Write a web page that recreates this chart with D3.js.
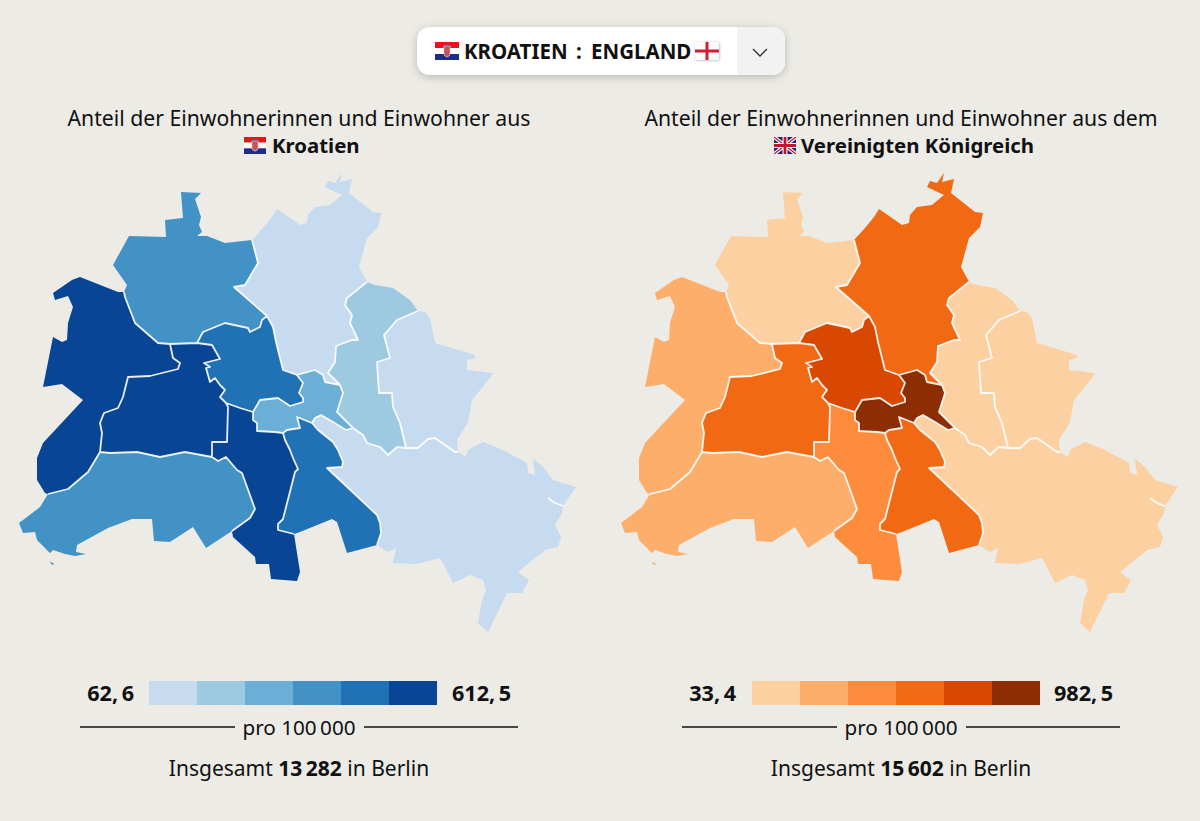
<!DOCTYPE html>
<html lang="de">
<head>
<meta charset="utf-8">
<title>Kroatien : England</title>
<script src="https://cdn.jsdelivr.net/npm/d3@7"></script>
<style>
  html, body { margin: 0; background: #ecebe6; }
  svg { display: block; }
  text { font-family: "Source Sans Pro", "Noto Sans", Lato, sans-serif; fill: #111; }
</style>
</head>
<body>
<svg id="chart" width="1200" height="821"></svg>
<script>
// bezirke and the values (pro 100 000, estimated from the colour class)
const districts = ['rei', 'pan', 'lic', 'mar', 'tre', 'neu', 'tem', 'ste', 'spa', 'cha', 'mit', 'fk']
const kroatienValues = [390, 95, 190, 62.6, 90, 470, 580, 400, 612.5, 560, 480, 300]
const englandValues = [150, 580, 110, 33.4, 120, 560, 430, 300, 230, 600, 740, 982.5]

const kroatienRange = [62.6, 612.5]
const englandRange = [33.4, 982.5]

// border lines of the bezirke. shared so neighbours fit
const outerBorders = {
  rei: [[124,292],[127,285],[113,265],[129,236],[166,237],[165,220],[183,218],[181,192],[201,193],[195,199],[201,217],[199,225],[202,232],[197,236],[207,236],[225,243],[252,240]],
  pan: [[252,240],[263,228],[272,217],[277,209],[290,218],[300,225],[307,223],[308,215],[315,207],[330,205],[342,195],[325,187],[328,181],[335,183],[342,173],[340,182],[352,179],[349,193],[373,212],[381,213],[378,227],[367,238],[359,267],[365,278],[367,282]],
  lic: [[367,282],[375,285],[393,288],[410,300],[418,311]],
  mar: [[418,311],[425,312],[430,318],[435,343],[475,355],[475,358],[467,360],[467,370],[493,373],[490,378],[472,400],[468,422],[457,440],[458,452]],
  tre: [[458,452],[466,457],[468,450],[483,442],[503,450],[527,463],[528,473],[535,475],[533,459],[543,467],[553,480],[576,487],[567,500],[563,506],[562,513],[555,525],[561,537],[558,547],[545,550],[518,572],[529,580],[522,593],[507,593],[488,632],[478,623],[482,600],[486,590],[483,580],[470,575],[453,583],[443,563],[440,558],[417,564],[393,563],[396,548],[388,552],[377,545]],
  neu: [[377,545],[347,553],[337,522],[332,519],[300,532],[294,534]],
  tem: [[294,534],[300,572],[297,581],[271,579],[269,564],[256,564],[255,557],[233,537],[232,531]],
  ste: [[232,531],[206,548],[193,527],[170,542],[154,541],[152,519],[132,519],[108,528],[77,545],[76,552],[86,554],[75,556],[65,554],[53,550],[50,553],[37,540],[35,532],[23,533],[19,523],[27,517],[40,507],[48,494]],
  spa: [[48,494],[45,493],[37,480],[37,458],[43,443],[83,400],[62,384],[43,387],[53,337],[62,342],[67,340],[68,323],[73,307],[68,296],[55,300],[53,293],[72,280],[80,277],[118,292],[124,292]]
}
const innerBorders = {
  reiPan: [[252,240],[258,263],[245,285],[234,287],[267,316]],
  reiMit: [[267,316],[262,320],[260,327],[250,332],[248,328],[225,323],[203,332],[197,343]],
  panMit: [[267,316],[273,327],[276,342],[283,370],[297,375]],
  panFk: [[297,375],[315,370],[323,375],[325,382],[340,385]],
  panLic: [[340,385],[328,373],[335,362],[336,346],[352,340],[358,340],[350,323],[352,315],[345,305],[347,298],[367,282]],
  licMar: [[418,311],[397,320],[384,335],[390,358],[377,362],[379,393],[392,393],[393,407],[400,423],[406,448]],
  licTre: [[353,428],[363,435],[367,443],[380,447],[388,455],[397,447],[406,448]],
  marTre: [[406,448],[418,448],[428,439],[435,438],[455,452],[458,452]],
  fkLic: [[340,385],[343,393],[337,412],[353,428]],
  fkTre: [[353,428],[346,430],[333,422],[321,415],[315,418],[312,423]],
  neuTre: [[312,423],[318,430],[333,442],[338,450],[343,462],[342,467],[327,468],[377,515],[380,523],[381,533],[377,545]],
  fkNeu: [[312,423],[297,417],[300,428],[287,430],[283,433]],
  temNeu: [[283,433],[285,440],[290,450],[293,458],[298,469],[295,472],[283,519],[278,524],[278,530],[294,534]],
  fkTem: [[283,433],[275,432],[257,431],[257,423],[253,420],[253,412]],
  mitTem: [[226,403],[240,408],[253,412]],
  mitFk: [[253,412],[260,400],[278,398],[290,406],[303,402],[303,398],[299,393],[303,383],[297,375]],
  chaMit: [[197,343],[212,345],[220,359],[204,363],[210,367],[206,368],[210,382],[215,378],[220,385],[225,390],[220,397],[226,403]],
  reiCha: [[197,343],[170,344]],
  reiSpa: [[170,344],[158,343],[135,323],[125,297],[124,292]],
  chaSpa: [[170,344],[173,358],[180,363],[178,369],[150,376],[128,377],[123,397],[118,408],[104,413],[100,423],[102,433],[100,452]],
  spaSte: [[100,452],[88,472],[68,489],[48,494]],
  chaSte: [[100,452],[110,453],[137,452],[160,457],[185,452],[212,457]],
  chaTem: [[226,403],[228,407],[227,442],[212,442],[212,457]],
  steTem: [[212,457],[218,461],[226,457],[237,470],[242,473],[255,509],[250,518],[232,531]],
  lake: [[548,498],[555,503],[563,506]]
}
// each bezirk as a list of borders, '-' means walk it backwards
const rings = {
  rei: ['rei', 'reiPan', 'reiMit', 'reiCha', 'reiSpa'],
  pan: ['pan', '-panLic', '-panFk', '-panMit', '-reiPan'],
  lic: ['lic', 'licMar', '-licTre', '-fkLic', 'panLic'],
  mar: ['mar', '-marTre', '-licMar'],
  tre: ['tre', '-neuTre', '-fkTre', 'licTre', 'marTre'],
  neu: ['neu', '-temNeu', '-fkNeu', 'neuTre'],
  tem: ['tem', '-steTem', '-chaTem', 'mitTem', '-fkTem', 'temNeu'],
  ste: ['ste', '-spaSte', 'chaSte', 'steTem'],
  spa: ['spa', '-reiSpa', 'chaSpa', 'spaSte'],
  cha: ['-reiCha', 'chaMit', 'chaTem', '-chaSte', '-chaSpa'],
  mit: ['-reiMit', 'panMit', '-mitFk', '-mitTem', '-chaMit'],
  fk: ['mitFk', 'panFk', 'fkLic', 'fkTre', 'fkNeu', 'fkTem']
}
// tiny island off the south west corner
const island = [[50,562],[53,563],[54,565],[51,564],[50,562]]

const bg = '#ecebe6'
const svg = d3.select('#chart')
svg.append('rect').attr('width', 1200).attr('height', 821).attr('fill', bg)

const ringCoords = name => {
  let pts = []
  rings[name].forEach(key => {
    const back = key[0] === '-'
    const id = back ? key.slice(1) : key
    const line = (outerBorders[id] || innerBorders[id]).slice()
    if (back) line.reverse()
    pts = pts.concat(pts.length ? line.slice(1) : line)
  })
  return pts
}

const features = districts.map((name, i) => ({
  type: 'Feature',
  properties: { name, index: i },
  geometry: name === 'ste'
    ? { type: 'MultiPolygon', coordinates: [[ringCoords(name)], [island]] }
    : { type: 'Polygon', coordinates: [ringCoords(name)] }
}))
const innerMesh = { type: 'MultiLineString', coordinates: Object.values(innerBorders) }

const defs = svg.append('defs')
const shadow = defs.append('filter').attr('id', 'shadow')
  .attr('x', '-10%').attr('y', '-30%').attr('width', '120%').attr('height', '170%')
shadow.append('feDropShadow').attr('dx', 0).attr('dy', 2).attr('stdDeviation', 4)
  .attr('flood-color', '#000').attr('flood-opacity', 0.22)
const flagShadow = defs.append('filter').attr('id', 'flagShadow')
  .attr('x', '-20%').attr('y', '-20%').attr('width', '140%').attr('height', '140%')
flagShadow.append('feDropShadow').attr('dx', 0.5).attr('dy', 0.5).attr('stdDeviation', 0.8)
  .attr('flood-color', '#000').attr('flood-opacity', 0.3)

// flags
let clipCount = 0
const drawCroatia = (x, y, w, h) => {
  const g = svg.append('g').attr('transform', `translate(${x},${y})`)
  const colors = ['#e8141c', '#ffffff', '#1c2a8c']
  const band = d3.scaleBand().domain(d3.range(3)).range([0, h])
  g.selectAll('rect.stripe').data(colors).join('rect')
    .attr('class', 'stripe').attr('y', (d, i) => band(i)).attr('width', w).attr('height', band.bandwidth()).attr('fill', d => d)
  // shield
  g.append('path').attr('d', `M${w/2-3.2},${h*0.24}h6.4v${h*0.4}q0,${h*0.14} -3.2,${h*0.2}q-3.2,-${h*0.06} -3.2,-${h*0.2}z`).attr('fill', '#c8545a').attr('stroke', '#fff').attr('stroke-width', 0.5)
  g.append('rect').attr('x', w/2-3.2).attr('y', h*0.16).attr('width', 6.4).attr('height', h*0.08).attr('fill', '#5a78b8')
}
const drawEngland = (x, y, w, h) => {
  const g = svg.append('g').attr('transform', `translate(${x},${y})`)
  g.append('rect').attr('width', w).attr('height', h).attr('fill', '#fbfbfb').attr('filter', 'url(#flagShadow)')
  g.append('rect').attr('y', h/2-1.5).attr('width', w).attr('height', 3).attr('fill', '#cf1f33')
  g.append('rect').attr('x', w/2-1.5).attr('width', 3).attr('height', h).attr('fill', '#cf1f33')
}
const drawUK = (x, y, w, h) => {
  const id = `uk${clipCount++}`
  defs.append('clipPath').attr('id', id).append('rect').attr('width', w).attr('height', h)
  const g = svg.append('g').attr('transform', `translate(${x},${y})`).attr('clip-path', `url(#${id})`)
  g.append('rect').attr('width', w).attr('height', h).attr('fill', '#1a2a6c')
  const diag = `M0,0L${w},${h}M${w},0L0,${h}`
  const cross = `M${w/2},0V${h}M0,${h/2}H${w}`
  g.append('path').attr('d', diag).attr('stroke', '#fff').attr('stroke-width', 3.6)
  g.append('path').attr('d', diag).attr('stroke', '#c8102e').attr('stroke-width', 1.3)
  g.append('path').attr('d', cross).attr('stroke', '#fff').attr('stroke-width', 5)
  g.append('path').attr('d', cross).attr('stroke', '#c8102e').attr('stroke-width', 2.8)
}

// selector on top
svg.append('rect').attr('x', 417).attr('y', 27).attr('width', 368).attr('height', 48).attr('rx', 13)
  .attr('fill', '#fff').attr('filter', 'url(#shadow)')
svg.append('path').attr('d', 'M737,27H772a13,13 0 0 1 13,13V62a13,13 0 0 1 -13,13H737Z').attr('fill', '#f2f2f2')
svg.append('path').attr('d', 'M753,49L760,56L767,49').attr('fill', 'none').attr('stroke', '#333').attr('stroke-width', 1.4)
drawCroatia(435, 42, 24, 18)
drawEngland(695, 42, 24, 18)
const selectorText = svg.append('g').attr('font-size', 20.5).attr('font-weight', 700)
selectorText.append('text').attr('x', 464).attr('y', 59).text('KROATIEN')
selectorText.append('text').attr('x', 579).attr('y', 59).attr('text-anchor', 'middle').text(':')
selectorText.append('text').attr('x', 591).attr('y', 59).text('ENGLAND')

const drawPanel = (cfg) => {
  const projection = d3.geoIdentity().translate([cfg.dx, 0])
  const path = d3.geoPath(projection)
  const color = d3.scaleQuantize().domain(cfg.range).range(cfg.scheme)
  const cx = 299 + cfg.dx

  svg.append('text').attr('x', cx).attr('y', 126).attr('text-anchor', 'middle')
    .attr('font-size', 21.2).text(cfg.title)
  svg.append('text').attr('x', cfg.nameX).attr('y', 153)
    .attr('font-size', 20.4).attr('font-weight', 700).text(cfg.name)
  cfg.flag(cfg.flagX, 137, 22, 17)

  const map = svg.append('g')
  map.selectAll('path.bezirk').data(features).join('path')
    .attr('class', 'bezirk')
    .attr('d', path)
    .attr('fill', d => color(cfg.values[d.properties.index]))
  map.append('path').datum(innerMesh)
    .attr('d', path)
    .attr('fill', 'none')
    .attr('stroke', '#fff')
    .attr('stroke-opacity', 0.9)
    .attr('stroke-width', 1.8)
    .attr('stroke-linejoin', 'round')

  // legend
  const legendX = d3.scaleBand().domain(cfg.scheme).range([cx - 150 + cfg.legendShift, cx + 138 + cfg.legendShift])
  svg.append('g').selectAll('rect').data(cfg.scheme).join('rect')
    .attr('x', d => legendX(d)).attr('y', 681)
    .attr('width', legendX.bandwidth()).attr('height', 24)
    .attr('fill', d => d)
  const fmt = v => String(v).replace('.', ',\u2009')
  svg.append('text').attr('x', cx - 165).attr('y', 701).attr('text-anchor', 'end')
    .attr('font-size', 21.6).attr('font-weight', 700).text(fmt(cfg.range[0]))
  svg.append('text').attr('x', cx + 153).attr('y', 701)
    .attr('font-size', 21.6).attr('font-weight', 700).text(fmt(cfg.range[1]))

  const rule = svg.append('g').attr('stroke', '#111').attr('stroke-width', 1.5)
  rule.append('line').attr('x1', cx - 219).attr('x2', cx - 64).attr('y1', 727).attr('y2', 727)
  rule.append('line').attr('x1', cx + 65).attr('x2', cx + 219).attr('y1', 727).attr('y2', 727)
  svg.append('text').attr('x', cx).attr('y', 735).attr('text-anchor', 'middle')
    .attr('font-size', 20.7).text('pro 100\u2009000')

  const total = svg.append('text').attr('x', cx).attr('y', 776).attr('text-anchor', 'middle').attr('font-size', 21)
  total.append('tspan').text('Insgesamt ')
  total.append('tspan').attr('font-weight', 700).text(cfg.total)
  total.append('tspan').text(' in Berlin')
}

drawPanel({
  dx: 0,
  legendShift: 0,
  values: kroatienValues,
  range: kroatienRange,
  scheme: d3.schemeBlues[7].slice(1),
  title: 'Anteil der Einwohnerinnen und Einwohner aus',
  name: 'Kroatien',
  nameX: 272,
  flag: drawCroatia,
  flagX: 244,
  total: '13\u2009282'
})
drawPanel({
  dx: 602,
  legendShift: 1,
  values: englandValues,
  range: englandRange,
  scheme: d3.schemeOranges[7].slice(1),
  title: 'Anteil der Einwohnerinnen und Einwohner aus dem',
  name: 'Vereinigten Königreich',
  nameX: 801,
  flag: drawUK,
  flagX: 774,
  total: '15\u2009602'
})
</script>
</body>
</html>
